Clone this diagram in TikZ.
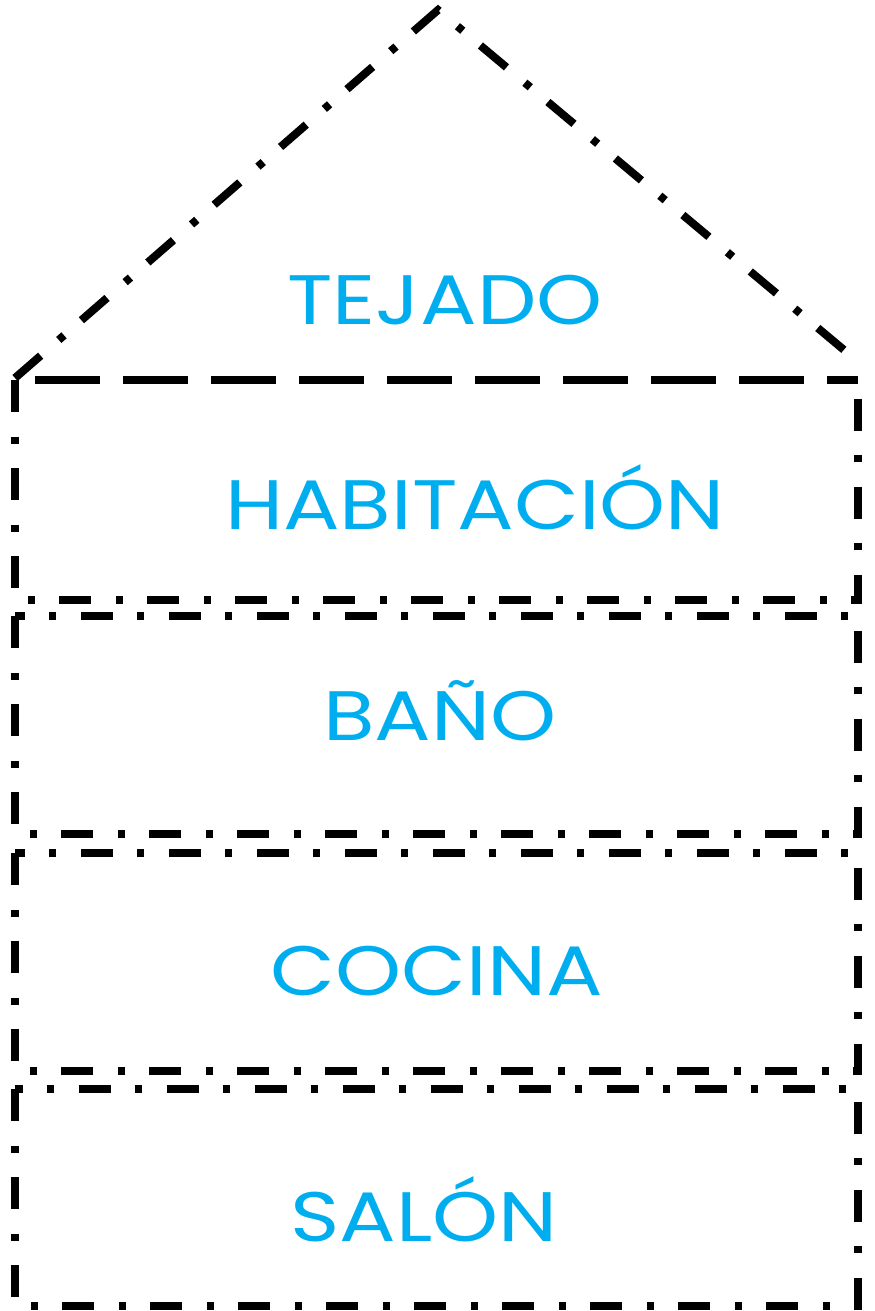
\documentclass[tikz,border=0pt]{standalone}
\usepackage{fontspec}
\setmainfont{Poppins}[FakeStretch=1.2]
\usepackage{tikz}
\usetikzlibrary{calc}

\definecolor{roomblue}{RGB}{0,174,239}

\tikzset{
  wall/.style={line width=4pt,line cap=butt,
    dash pattern=on 16pt off 12.5pt on 3.5pt off 12pt},
  ceiling/.style={line width=4pt,dash pattern=on 32.5pt off 11.5pt,dash phase=-10pt},
  roof/.style={line width=4pt,dash pattern=on 17pt off 12pt on 3.5pt off 11.5pt},
  roomname/.style={text=roomblue,font=\fontsize{35}{38}\selectfont}
}

\begin{document}
\begin{tikzpicture}[x=0.5pt,y=-0.5pt]
  \useasboundingbox (0,0) rectangle (874,1311);

  % roof
  \coordinate (eaveL) at (15,378);
  \coordinate (ridge) at (438,10);
  \coordinate (eaveR) at (856,360);
  \draw[roof] (eaveL) -- (ridge) -- (eaveR);
  \node[roomname] (tejado) at (445,300) {TEJADO};

  % rooms, top to bottom
  \draw[ceiling] (15,380) -- (858,380);
  \draw[wall] (15,380) -- (15,600) -- (858,600) -- (858,380);
  \node[roomname] (habitacion) at (475,497) {HABITACIÓN};

  \draw[wall] (15,616) rectangle (858,834);
  \node[roomname] (bano) at (440,711) {BAÑO};

  \draw[wall] (15,853) rectangle (858,1071);
  \node[roomname] (cocina) at (437,971) {COCINA};

  \draw[wall] (15,1089) rectangle (858,1306);
  \node[roomname] (salon) at (424,1209) {SALÓN};
\end{tikzpicture}
\end{document}
